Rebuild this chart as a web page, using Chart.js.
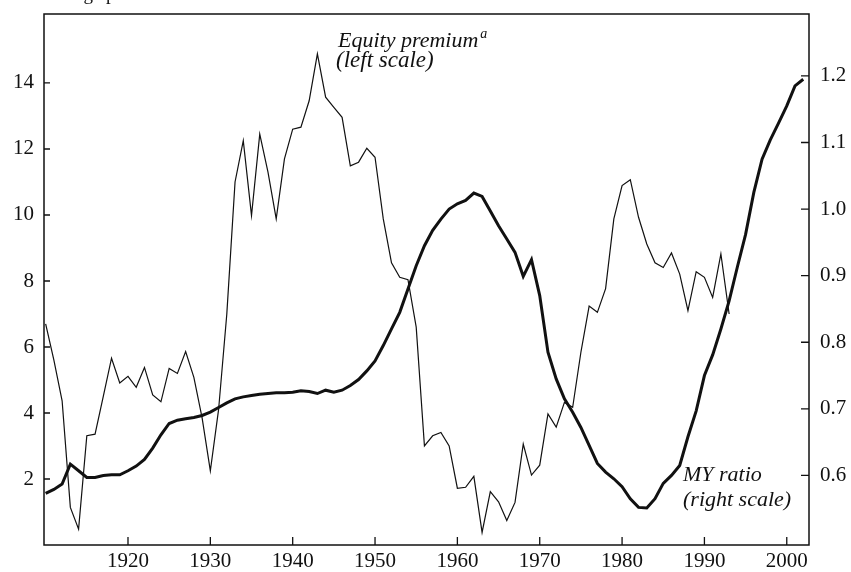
<!DOCTYPE html>
<html>
<head>
<meta charset="utf-8">
<script src="https://cdn.jsdelivr.net/npm/chart.js@4"></script>
<style>
  html, body { margin: 0; padding: 0; background: #fff; }
  canvas { display: block; }
</style>
</head>
<body>
<canvas id="myChart" width="851" height="572"></canvas>
<script>
// Data
const years = [];
for (let y = 1910; y <= 2002; y++) years.push(y);

// Equity premium (left scale), 1910-1993
const equityPremium = [
  6.70, 5.6, 4.37, 1.14, 0.48, 3.31, 3.36, 4.5, 5.66, 4.91,
  5.11, 4.78, 5.38, 4.55, 4.34, 5.35, 5.20, 5.86, 5.08, 3.85,
  2.25, 4.1, 7.0, 11.0, 12.25, 9.98, 12.45, 11.3, 9.88, 11.7,
  12.6, 12.66, 13.46, 14.88, 13.57, 13.26, 12.96, 11.49, 11.6, 12.02,
  11.75, 9.88, 8.55, 8.11, 8.04, 6.6, 3.0, 3.31, 3.41, 3.0,
  1.72, 1.75, 2.08, 0.38, 1.62, 1.31, 0.74, 1.29, 3.06, 2.12,
  2.42, 3.97, 3.57, 4.32, 4.17, 5.84, 7.24, 7.05, 7.77, 9.88,
  10.89, 11.07, 9.93, 9.12, 8.55, 8.41, 8.85, 8.21, 7.10, 8.28,
  8.11, 7.50, 8.82, 7.0
];

// MY ratio (right scale), 1910-2002
const myRatio = [
  0.573, 0.579, 0.587, 0.617, 0.607, 0.597, 0.597, 0.600, 0.601, 0.601,
  0.607, 0.614, 0.624, 0.641, 0.661, 0.678, 0.683, 0.685, 0.687, 0.690,
  0.695, 0.702, 0.709, 0.715, 0.718, 0.720, 0.722, 0.723, 0.724, 0.724,
  0.725, 0.727, 0.726, 0.723, 0.728, 0.725, 0.728, 0.735, 0.744, 0.757,
  0.772, 0.795, 0.820, 0.845, 0.880, 0.915, 0.945, 0.968, 0.985, 1.000,
  1.008, 1.013, 1.024, 1.019, 0.997, 0.975, 0.955, 0.935, 0.899, 0.924,
  0.870, 0.785, 0.745, 0.715, 0.695, 0.672, 0.645, 0.618, 0.605, 0.595,
  0.583, 0.565, 0.552, 0.551, 0.565, 0.588, 0.600, 0.615, 0.658, 0.697,
  0.750, 0.781, 0.820, 0.862, 0.913, 0.962, 1.025, 1.075, 1.104, 1.129,
  1.155, 1.185, 1.195
];

const xTicks = [1920, 1930, 1940, 1950, 1960, 1970, 1980, 1990, 2000];
const leftTicks = [2, 4, 6, 8, 10, 12, 14];
const rightTicks = [0.6, 0.7, 0.8, 0.9, 1.0, 1.1, 1.2];

const serif = "'Liberation Serif', 'DejaVu Serif', serif";
const ink = "#111";

// Frame, inward tick marks and the text labels
const framePlugin = {
  id: "framePlugin",
  afterDraw(chart) {
    const { ctx, chartArea: a, scales } = chart;
    ctx.save();
    ctx.strokeStyle = ink;
    ctx.lineWidth = 1.5;
    ctx.strokeRect(a.left, a.top, a.right - a.left, a.bottom - a.top);

    ctx.lineWidth = 1.3;
    ctx.beginPath();
    xTicks.forEach(v => {
      const px = scales.x.getPixelForValue(v);
      ctx.moveTo(px, a.bottom);
      ctx.lineTo(px, a.bottom - 8);
    });
    leftTicks.forEach(v => {
      const py = scales.yLeft.getPixelForValue(v);
      ctx.moveTo(a.left, py);
      ctx.lineTo(a.left + 6, py);
    });
    rightTicks.forEach(v => {
      const py = scales.yRight.getPixelForValue(v);
      ctx.moveTo(a.right, py);
      ctx.lineTo(a.right - 8, py);
    });
    ctx.stroke();

    ctx.fillStyle = ink;
    ctx.textBaseline = "alphabetic";
    ctx.textAlign = "left";

    // cut-off heading at the very top
    ctx.font = "19px " + serif;
    ctx.fillText("Percentage points", 18, 0);

    ctx.font = "italic 22px " + serif;
    ctx.fillText("Equity premium", 338, 47);
    const w = ctx.measureText("Equity premium").width;
    ctx.font = "italic 14px " + serif;
    ctx.fillText("a", 338 + w + 2, 38);
    ctx.font = "italic 23px " + serif;
    ctx.fillText("(left scale)", 336, 67);

    ctx.font = "italic 22px " + serif;
    ctx.fillText("MY ratio", 683, 481);
    ctx.fillText("(right scale)", 683, 506);
    ctx.restore();
  }
};

const tickFont = { family: serif, size: 21 };

// keep the plot box fixed, no extra room for half labels
function noPad(axis) {
  axis.paddingTop = 0;
  axis.paddingBottom = 0;
  axis.paddingLeft = 0;
  axis.paddingRight = 0;
}

new Chart(document.getElementById("myChart"), {
  type: "line",
  data: {
    datasets: [
      {
        label: "Equity premium",
        data: equityPremium.map((v, i) => ({ x: years[i], y: v })),
        yAxisID: "yLeft",
        borderColor: ink,
        borderWidth: 1.2,
        pointRadius: 0,
        tension: 0
      },
      {
        label: "MY ratio",
        data: myRatio.map((v, i) => ({ x: years[i], y: v })),
        yAxisID: "yRight",
        borderColor: ink,
        borderWidth: 3,
        pointRadius: 0,
        tension: 0
      }
    ]
  },
  options: {
    responsive: false,
    animation: false,
    layout: { padding: { top: 14, left: 0, right: 0, bottom: 0 } },
    plugins: {
      legend: { display: false },
      tooltip: { enabled: false }
    },
    scales: {
      x: {
        type: "linear",
        min: 1909.8,
        max: 2002.7,
        afterBuildTicks: axis => { axis.ticks = xTicks.map(v => ({ value: v })); },
        afterFit: axis => { axis.height = 27; noPad(axis); },
        grid: { display: false, drawTicks: false },
        border: { display: false },
        ticks: {
          font: tickFont,
          color: ink,
          padding: 4,
          maxRotation: 0,
          autoSkip: false,
          callback: v => String(v)
        }
      },
      yLeft: {
        type: "linear",
        position: "left",
        min: 0,
        max: 16.09,
        afterBuildTicks: axis => { axis.ticks = leftTicks.map(v => ({ value: v })); },
        afterFit: axis => { axis.width = 44; noPad(axis); },
        grid: { display: false, drawTicks: false },
        border: { display: false },
        ticks: { font: tickFont, color: ink, padding: 10, callback: v => String(v) }
      },
      yRight: {
        type: "linear",
        position: "right",
        min: 0.4955,
        max: 1.293,
        afterBuildTicks: axis => { axis.ticks = rightTicks.map(v => ({ value: v })); },
        afterFit: axis => { axis.width = 42; noPad(axis); },
        grid: { display: false, drawTicks: false },
        border: { display: false },
        ticks: { font: tickFont, color: ink, padding: 11, callback: v => v.toFixed(1) }
      }
    }
  },
  plugins: [framePlugin]
});
</script>
</body>
</html>
